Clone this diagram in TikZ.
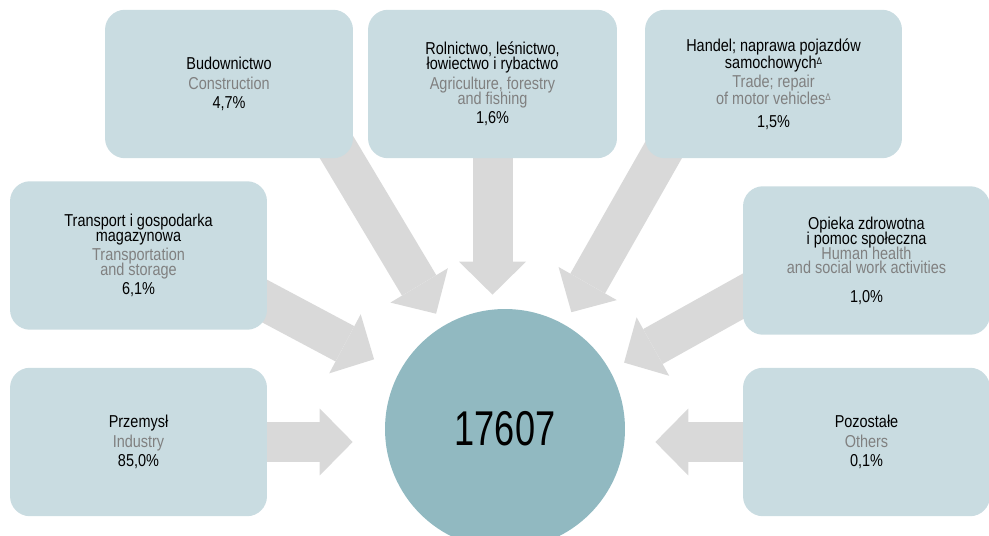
\documentclass[tikz,border=0pt]{standalone}
\usepackage{fontspec}
\setmainfont[FakeStretch=0.84]{Liberation Sans}
\newfontfamily\bignum[FakeStretch=0.74]{Liberation Sans}
\usetikzlibrary{arrows.meta,calc,backgrounds}

\definecolor{boxblue}{RGB}{201,220,225}
\definecolor{hubblue}{RGB}{145,185,193}
\definecolor{flowgray}{RGB}{217,217,217}
\definecolor{engray}{RGB}{128,128,128}
\newcommand{\engl}[1]{{\color{engray}#1}}
\newcommand{\tri}{\raisebox{0.45ex}{\fontsize{5.5}{6}\selectfont Δ}}

\tikzset{
    sector/.style={fill=boxblue, rounded corners=0.4cm, inner sep=0pt, align=center,
        minimum height=2.97cm, font=\fontsize{9.8}{11}\selectfont},
    hub/.style={circle, fill=hubblue, inner sep=0pt, minimum size=4.8cm,
        font=\bignum\fontsize{27.8}{30}\selectfont},
    flow/.style={color=flowgray, line width=0.8cm, shorten <=-0.6cm,
        -{Triangle[width=1.34cm,length=0.66cm,line width=0pt]}},
}

\begin{document}
\begin{tikzpicture}[x=0.02cm, y=-0.02cm]
    \clip (0,0) rectangle (989,536);

    % Centre
    \node[hub] (hub) at (505,429) {17607};

    % Top row
    \node[sector, minimum width=4.96cm] (bud) at (229,84)
        {Budownictwo\\\engl{Construction}\\4,7\%};
    \node[sector, minimum width=4.98cm] (rol) at (492.5,84)
        {Rolnictwo, leśnictwo,\\[-2.5pt]łowiectwo i rybactwo\\\engl{Agriculture, forestry}\\[-2.5pt]\engl{and fishing}\\1,6\%};
    \node[sector, minimum width=5.14cm] (han) at (773.5,84)
        {Handel; naprawa pojazdów\\[-1.5pt]samochowych\tri\\\engl{Trade; repair}\\[-1.5pt]\engl{of motor vehicles\tri}\\[2pt]1,5\%};

    % Middle row
    \node[sector, minimum width=5.14cm] (tra) at (138.5,255.5)
        {Transport i gospodarka\\[-2.5pt]magazynowa\\\engl{Transportation}\\[-2.5pt]\engl{and storage}\\6,1\%};
    \node[sector, minimum width=4.94cm] (opi) at (866.5,260.5)
        {Opieka zdrowotna\\[-2.5pt]i pomoc społeczna\\[-2.5pt]\engl{Human health}\\[-2.5pt]\engl{and social work activities}\\[5pt]1,0\%};

    % Bottom row
    \node[sector, minimum width=5.14cm] (prz) at (138.5,442)
        {Przemysł\\\engl{Industry}\\85,0\%};
    \node[sector, minimum width=4.94cm] (poz) at (866.5,442)
        {Pozostałe\\\engl{Others}\\0,1\%};

    % Flows into the centre
    \begin{scope}[on background layer]
        \draw[flow, shorten >=0.28cm] ($(bud.south east)+(-10,0)$) -- (hub);
        \draw[flow, shorten >=0.28cm] (rol.south) -- (rol.south |- hub.north);
        \draw[flow, shorten >=0.28cm] ($(han.south west)+(14,0)$) -- (hub);
        \draw[flow, shorten >=0.56cm] ($(tra.east)+(0,47)$) -- (hub);
        \draw[flow, shorten >=0.32cm] ($(opi.west)+(0,36)$) -- (hub);
        \draw[flow, shorten >=0.64cm] (prz.east) -- (prz.east -| hub.west);
        \draw[flow, shorten >=0.6cm] (poz.west) -- (poz.west -| hub.east);
    \end{scope}
\end{tikzpicture}
\end{document}
